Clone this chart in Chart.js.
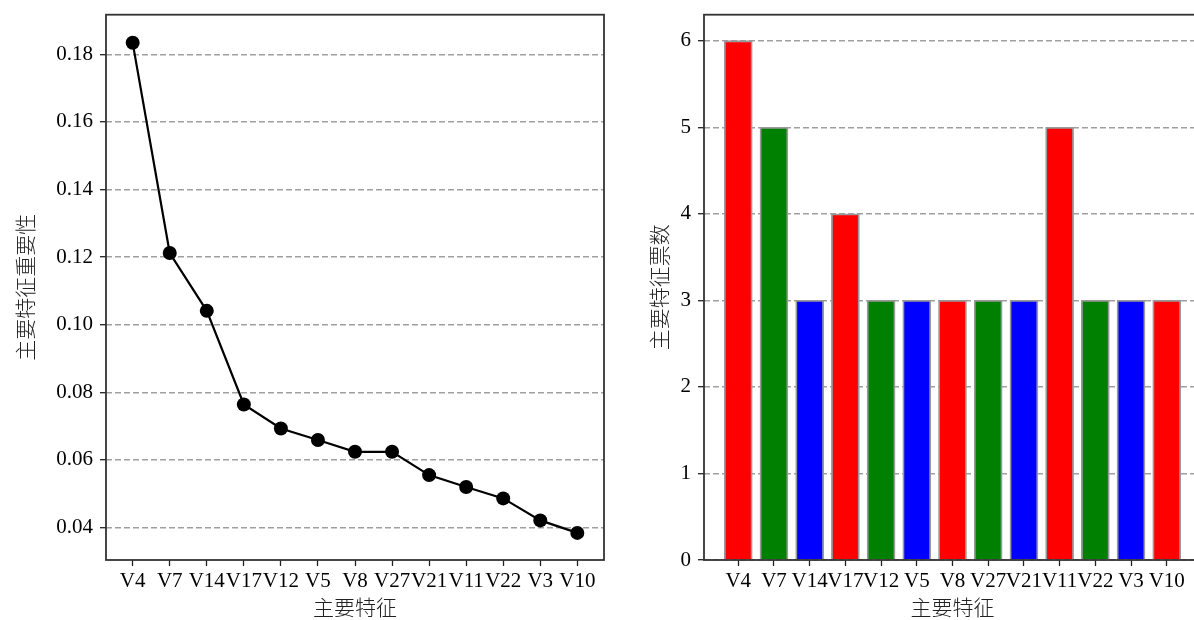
<!DOCTYPE html>
<html><head><meta charset="utf-8">
<script src="https://cdn.jsdelivr.net/npm/chart.js@4.4.1/dist/chart.umd.min.js"></script>
<style>
html,body{margin:0;padding:0;background:#fff;overflow:hidden;width:1194px;height:620px}
#w1{position:absolute;left:0;top:0;width:620px;height:620px}
#w2{position:absolute;left:600px;top:0;width:620px;height:620px}
</style></head><body>
<div id="w1"><canvas id="c1" width="620" height="620"></canvas></div>
<div id="w2"><canvas id="c2" width="620" height="620"></canvas></div>
<script>
const features = ['V4','V7','V14','V17','V12','V5','V8','V27','V21','V11','V22','V3','V10'];
const importance = [0.1834,0.1212,0.1041,0.0764,0.0693,0.0659,0.0624,0.0624,0.0555,0.0520,0.0486,0.0421,0.0384];
const votes = [6,5,3,4,3,3,3,3,3,5,3,3,3];
const importanceTicks = [0.04,0.06,0.08,0.10,0.12,0.14,0.16,0.18];
const voteTicks = [0,1,2,3,4,5,6];
const barColors = ['#ff0000','#008000','#0000ff'];
const xTitle = '主要特征';
const yTitleLeft = '主要特征重要性';
const yTitleRight = '主要特征票数';

const serif = 'Liberation Serif, Times New Roman, serif';
const cjk = 'Noto Sans CJK SC, sans-serif';

const frame = {id:'frame', afterDraw(c){const {ctx, chartArea:a}=c; ctx.save(); ctx.strokeStyle='#333'; ctx.lineWidth=1.8; ctx.strokeRect(a.left,a.top,a.right-a.left,a.bottom-a.top); ctx.restore();}};

function xScale(min, max){
  return {
    type:'linear', min:min, max:max, offset:false,
    afterBuildTicks(s){ s.ticks = features.map((_,i)=>({value:i})); },
    afterFit(s){ s.height = 60; s.paddingLeft = 0; s.paddingRight = 0; },
    ticks:{ callback:(v)=>features[v], font:{family:serif,size:21}, color:'#000', padding:3, maxRotation:0, autoSkip:false },
    grid:{ display:true, drawOnChartArea:false, drawTicks:true, tickLength:6, tickColor:'#222', tickWidth:1.3, offset:false },
    border:{ display:false },
    title:{ display:true, text:xTitle, font:{family:cjk,size:21,weight:'300'}, color:'#222', padding:{top:0,bottom:0} }
  };
}
function yScale(min, max, tickVals, fmt, width, titleText, titlePad){
  return {
    type:'linear', min:min, max:max,
    afterBuildTicks(s){ s.ticks = tickVals.map(v=>({value:v})); },
    afterFit(s){ s.width = width; s.paddingTop = 0; s.paddingBottom = 0; },
    ticks:{ callback:fmt, font:{family:serif,size:21}, color:'#000', padding:7 },
    grid:{ display:true, drawTicks:true, tickLength:6, tickColor:'#222', tickWidth:1.3, color:'rgba(128,128,128,0.75)', lineWidth:1.4 },
    border:{ display:false, dash:[6,3] },
    title:{ display:true, text:titleText, font:{family:cjk,size:21,weight:'300'}, color:'#222', padding:{top:titlePad,bottom:0} }
  };
}

new Chart(document.getElementById('c1'), {
  type:'line',
  data:{ datasets:[{ data: features.map((f,i)=>({x:i,y:importance[i]})), borderColor:'#000', borderWidth:2.2, pointRadius:7, pointBackgroundColor:'#000', pointBorderWidth:0, tension:0 }]},
  options:{ responsive:false, animation:false, devicePixelRatio:1,
    layout:{ padding:{top:14.7,right:16,left:0,bottom:0} },
    plugins:{ legend:{display:false}, tooltip:{enabled:false} },
    scales:{ x:xScale(-0.72,12.72), y:yScale(0.03038,0.19172,importanceTicks,(v)=>v.toFixed(2),106,yTitleLeft,12) }
  },
  plugins:[frame]
});

new Chart(document.getElementById('c2'), {
  type:'bar',
  data:{ datasets:[{ data: features.map((f,i)=>({x:i,y:votes[i]})), backgroundColor: votes.map((_,i)=>barColors[i%3]), borderColor:'#999', borderWidth:1.8, barThickness:28 }]},
  options:{ responsive:false, animation:false, devicePixelRatio:1,
    layout:{ padding:{top:14.7,right:19,left:0,bottom:0} },
    plugins:{ legend:{display:false}, tooltip:{enabled:false} },
    scales:{ x:xScale(-0.96,12.96), y:yScale(0,6.3,voteTicks,(v)=>String(v),104,yTitleRight,46) }
  },
  plugins:[frame]
});
</script>
</body></html>
